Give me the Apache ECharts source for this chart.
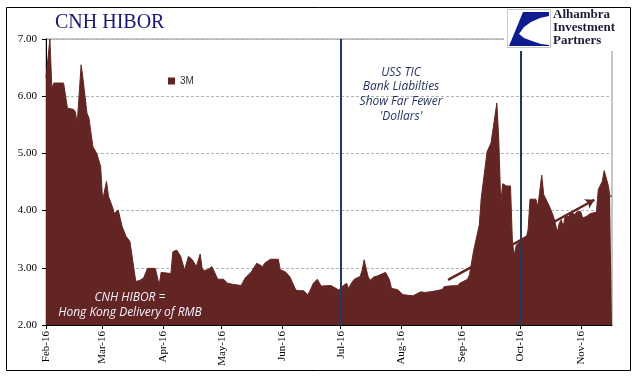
<!DOCTYPE html>
<html>
<head>
<meta charset="utf-8">
<script src="https://cdn.jsdelivr.net/npm/echarts@6/dist/echarts.min.js"></script>
<style>
html,body{margin:0;padding:0;background:#fff;}
#chart{width:640px;height:382px;}
</style>
</head>
<body>
<div id="chart"></div>
<script>
// ---- data ----
var seriesName = '3M';
var dates = [
 '2016-02-01','2016-02-02','2016-02-03','2016-02-04','2016-02-05','2016-02-10','2016-02-12','2016-02-15','2016-02-16','2016-02-17',
 '2016-02-19','2016-02-20','2016-02-22','2016-02-23','2016-02-25','2016-02-26','2016-02-27','2016-02-29','2016-03-01','2016-03-03',
 '2016-03-04','2016-03-06','2016-03-07','2016-03-09','2016-03-11','2016-03-13','2016-03-15','2016-03-18','2016-03-20','2016-03-22',
 '2016-03-24','2016-03-28','2016-03-29','2016-03-30','2016-03-31','2016-04-05','2016-04-06','2016-04-08','2016-04-10','2016-04-11',
 '2016-04-12','2016-04-14','2016-04-16','2016-04-18','2016-04-20','2016-04-21','2016-04-22','2016-04-24','2016-04-26','2016-04-27',
 '2016-04-29','2016-05-02','2016-05-04','2016-05-07','2016-05-11','2016-05-13','2016-05-16','2016-05-17','2016-05-19','2016-05-22',
 '2016-05-23','2016-05-26','2016-05-30','2016-05-31','2016-06-03','2016-06-05','2016-06-08','2016-06-10','2016-06-12','2016-06-14',
 '2016-06-15','2016-06-17','2016-06-19','2016-06-21','2016-06-26','2016-06-27','2016-06-30','2016-07-01','2016-07-02','2016-07-04',
 '2016-07-05','2016-07-07','2016-07-08','2016-07-11','2016-07-12','2016-07-13','2016-07-14','2016-07-15','2016-07-16','2016-07-18',
 '2016-07-20','2016-07-22','2016-07-24','2016-07-26','2016-07-27','2016-07-30','2016-08-02','2016-08-07','2016-08-08','2016-08-11',
 '2016-08-13','2016-08-16','2016-08-19','2016-08-22','2016-08-23','2016-08-25','2016-08-30','2016-08-31','2016-09-01','2016-09-04',
 '2016-09-05','2016-09-07','2016-09-08','2016-09-10','2016-09-11','2016-09-12','2016-09-14','2016-09-15','2016-09-16','2016-09-19',
 '2016-09-20','2016-09-21','2016-09-22','2016-09-24','2016-09-26','2016-09-27','2016-09-28','2016-09-29','2016-10-01','2016-10-04',
 '2016-10-05','2016-10-06','2016-10-09','2016-10-10','2016-10-12','2016-10-13','2016-10-14','2016-10-15','2016-10-16','2016-10-18',
 '2016-10-20','2016-10-21','2016-10-22','2016-10-23','2016-10-24','2016-10-26','2016-10-27','2016-10-29','2016-10-30','2016-11-01',
 '2016-11-02','2016-11-04','2016-11-06','2016-11-09','2016-11-10','2016-11-12','2016-11-13','2016-11-15','2016-11-16','2016-11-17'
];
var hibor3m = [
 6.32,6.35,7.00,6.14,6.23,6.23,5.79,5.77,5.73,5.53,
 6.55,6.29,5.70,5.62,5.12,5.13,5.00,4.77,4.18,4.51,
 4.25,4.07,3.95,4.01,3.72,3.55,3.46,2.76,2.78,2.82,
 2.99,2.99,2.96,2.70,2.92,2.90,3.28,3.31,3.20,3.17,
 2.96,3.20,3.14,3.02,3.24,2.99,2.95,2.97,3.02,2.95,
 2.80,2.80,2.73,2.71,2.69,2.82,2.92,2.89,3.08,3.02,
 3.08,3.15,3.15,2.97,2.92,2.84,2.61,2.60,2.60,2.53,
 2.58,2.73,2.80,2.68,2.69,2.69,2.61,2.60,2.68,2.73,
 2.64,2.76,2.80,2.85,2.96,3.14,2.99,2.85,2.78,2.84,
 2.86,2.89,2.92,2.79,2.64,2.62,2.53,2.51,2.53,2.58,
 2.57,2.58,2.60,2.62,2.67,2.68,2.69,2.73,2.71,2.80,
 2.88,3.28,3.31,3.75,4.22,4.19,5.03,5.03,5.18,5.88,
 5.23,4.13,4.47,4.43,4.43,3.43,3.23,3.40,3.46,3.52,
 3.66,4.20,4.20,4.07,4.62,4.28,4.25,4.14,4.07,3.90,
 3.63,3.78,3.84,3.72,3.90,3.90,3.97,3.93,3.98,3.98,
 3.87,3.90,3.95,3.97,4.37,4.51,4.70,4.45,4.25,4.25
];
var monthTicks = ['2016-02-01','2016-03-01','2016-04-01','2016-05-01','2016-06-01','2016-07-01','2016-08-01','2016-09-01','2016-10-01','2016-11-01'];
var monthLabels = ['Feb-16','Mar-16','Apr-16','May-16','Jun-16','Jul-16','Aug-16','Sep-16','Oct-16','Nov-16'];
var yTicks = [2, 3, 4, 5, 6, 7];
var eventDates = ['2016-07-01','2016-10-01'];
var trendStart = ['2016-08-25', 2.79];
var trendEnd = ['2016-11-08', 4.19];
var xMin = '2016-02-01', xMax = '2016-11-17';

// ---- chart ----
function ts(s){ var p = s.split('-'); return Date.UTC(+p[0], +p[1]-1, +p[2]); }
var tickTs = monthTicks.map(ts);
var labelMap = {};
tickTs.forEach(function(t,i){ labelMap[t] = monthLabels[i]; });

var maroon = '#632523';
var navy = '#1F3864';

var chart = echarts.init(document.getElementById('chart'), null, {renderer:'canvas'});
var option = {
  animation: false,
  backgroundColor: '#fff',
  title: {
    text: 'CNH HIBOR',
    left: 50, top: 8,
    textStyle: {fontFamily: 'Liberation Serif', fontSize: 20, fontWeight: 'normal', color: '#17177a'}
  },
  legend: {
    data: [seriesName],
    left: 163, top: 71,
    icon: 'rect', itemWidth: 7, itemHeight: 7, itemGap: 4,
    textStyle: {fontFamily: 'Liberation Sans', fontSize: 10, color: '#333'}
  },
  grid: {
    left: 46, right: 28, top: 39, bottom: 57,
    show: true, borderColor: '#8c8c8c', borderWidth: 1, backgroundColor: 'transparent'
  },
  xAxis: {
    type: 'value',
    min: ts(xMin), max: ts(xMax),
    axisLine: {show: true, lineStyle: {color: '#000', width: 1}},
    axisTick: {show: true, length: 4, lineStyle: {color: '#000'}, customValues: tickTs},
    splitLine: {show: false},
    axisLabel: {
      customValues: tickTs,
      rotate: 90, margin: 6,
      fontFamily: 'Liberation Serif', fontSize: 11, color: '#000',
      formatter: function(v){ return labelMap[v] || ''; }
    }
  },
  yAxis: {
    type: 'value',
    min: 2, max: 7, interval: 1,
    axisLine: {show: true, lineStyle: {color: '#000', width: 1}},
    axisTick: {show: true, length: 4, lineStyle: {color: '#000'}},
    splitLine: {show: true, lineStyle: {color: '#b4b4b4', type: [3, 2], width: 1}},
    axisLabel: {
      margin: 9,
      fontFamily: 'Liberation Serif', fontSize: 11, color: '#000',
      formatter: function(v){ return yTicks.indexOf(v) >= 0 ? v.toFixed(2) : ''; }
    }
  },
  series: [{
    name: seriesName,
    type: 'line',
    data: dates.map(function(d,i){ return [ts(d), hibor3m[i]]; }),
    symbol: 'none',
    itemStyle: {color: maroon},
    lineStyle: {color: maroon, width: 1},
    areaStyle: {color: maroon, opacity: 1},
    markLine: {
      silent: true,
      symbol: ['none','none'],
      label: {show: false},
      data: [
        {xAxis: ts(eventDates[0]), lineStyle: {color: navy, width: 2, type: 'solid'}},
        {xAxis: ts(eventDates[1]), lineStyle: {color: navy, width: 2, type: 'solid'}},
        [
          {coord: [ts(trendStart[0]), trendStart[1]], symbol: 'none', lineStyle: {color: maroon, width: 2.5, type: 'solid'}},
          {coord: [ts(trendEnd[0]), trendEnd[1]], symbol: 'arrow', symbolSize: [8, 9]}
        ]
      ]
    }
  }],
  graphic: [
    {type: 'rect', shape: {x: 6.5, y: 7.5, width: 624, height: 363}, style: {fill: 'none', stroke: '#000', lineWidth: 1}, z: 100},
    {type: 'text', style: {text: 'USS TIC\nBank Liabilties\nShow Far Fewer\n\'Dollars\'', x: 401, y: 65, align: 'center', verticalAlign: 'top', font: 'italic 12px "Open Sans"', fill: '#1F2F5F', lineHeight: 14.7}, z: 50},
    {type: 'text', style: {text: 'CNH HIBOR =\nHong Kong Delivery of RMB', x: 130, y: 290, align: 'center', verticalAlign: 'top', font: 'italic 12px "Open Sans"', fill: '#f4f2ff', lineHeight: 15}, z: 50},
    // logo
    {type: 'rect', shape: {x: 504, y: 8, width: 124, height: 43}, style: {fill: '#fff'}, z: 90},
    {type: 'rect', shape: {x: 507.5, y: 9.5, width: 43, height: 38}, style: {fill: '#fff', stroke: '#c8c8c8', lineWidth: 1}, z: 91},
    {type: 'polygon', shape: {points: [[523,12],[549,12],[549,16],[540,18],[531,22],[524,27],[519,34],[524,38],[532,41],[541,44],[549,45],[549,46],[509,46]]}, style: {fill: '#0d1c8f'}, z: 92},
    {type: 'text', style: {text: 'Alhambra\nInvestment\nPartners', x: 553, y: 8, align: 'left', verticalAlign: 'top', font: 'bold 13px "Liberation Serif"', fill: '#1c1c3a', lineHeight: 13}, z: 92}
  ]
};
chart.setOption(option);
</script>
</body>
</html>
